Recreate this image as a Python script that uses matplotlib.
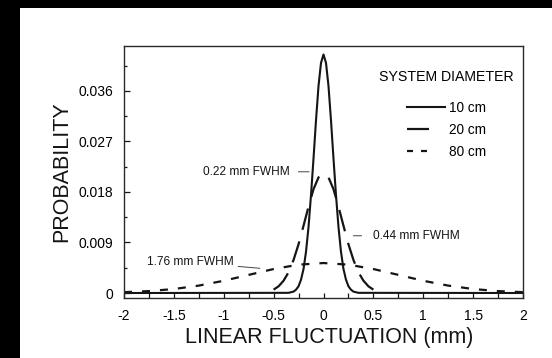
import matplotlib
matplotlib.use("Agg")
import matplotlib.pyplot as plt
from matplotlib.lines import Line2D
from matplotlib.patches import Rectangle
from matplotlib.ticker import MultipleLocator

plt.rcParams["font.family"] = ["Liberation Sans", "DejaVu Sans"]
plt.rcParams["lines.scale_dashes"] = False

# 10 cm system: narrow peak, flat at zero outside +/-0.35 mm
x10 = [-2.0, -0.35, -0.3, -0.275, -0.25, -0.225, -0.2, -0.175, -0.15, -0.125,
       -0.1, -0.075, -0.05, -0.025, 0.0, 0.025, 0.05, 0.075, 0.1, 0.125,
       0.15, 0.175, 0.2, 0.225, 0.25, 0.275, 0.3, 0.35, 2.0]
p10 = [0.0, 0.00003, 0.00025, 0.0006, 0.0012, 0.0024, 0.0043, 0.0074, 0.0118, 0.0175,
       0.0240, 0.0308, 0.0369, 0.0410, 0.0425, 0.0410, 0.0369, 0.0308, 0.0240, 0.0175,
       0.0118, 0.0074, 0.0043, 0.0024, 0.0012, 0.0006, 0.00025, 0.00003, 0.0]

# 20 cm system
x20 = [-0.5, -0.45, -0.4, -0.35, -0.3, -0.25, -0.2, -0.15, -0.1, -0.05, 0.0,
       0.05, 0.1, 0.15, 0.2, 0.25, 0.3, 0.35, 0.4, 0.45, 0.5]
p20 = [0.0006, 0.0012, 0.0022, 0.0037, 0.0059, 0.0087, 0.0120, 0.0154, 0.0185, 0.0206, 0.0213,
       0.0206, 0.0185, 0.0154, 0.0120, 0.0087, 0.0059, 0.0037, 0.0022, 0.0012, 0.0006]

# 80 cm system
x80 = [-2.0, -1.75, -1.5, -1.25, -1.0, -0.75, -0.5, -0.25, 0.0,
       0.25, 0.5, 0.75, 1.0, 1.25, 1.5, 1.75, 2.0]
p80 = [0.00015, 0.00034, 0.00071, 0.00132, 0.00218, 0.00323, 0.00427, 0.00505, 0.00534,
       0.00505, 0.00427, 0.00323, 0.00218, 0.00132, 0.00071, 0.00034, 0.00015]

series_labels = ["10 cm", "20 cm", "80 cm"]
fwhm_labels = ["0.22 mm FWHM", "0.44 mm FWHM", "1.76 mm FWHM"]
xticks = [-2, -1.5, -1, -0.5, 0, 0.5, 1, 1.5, 2]
xticklabels = ["-2", "-1.5", "-1", "-0.5", "0", "0.5", "1", "1.5", "2"]
yticks = [0, 0.009, 0.018, 0.027, 0.036]
yticklabels = ["0", "0.009", "0.018", "0.027", "0.036"]

INK = "#151515"
PX = 0.72  # points per pixel at 100 dpi

fig = plt.figure(figsize=(5.52, 3.58), dpi=100, facecolor="white")
# dark margin strips along the left and top edges
fig.patches.append(Rectangle((0, 0), 20 / 552, 1, transform=fig.transFigure,
                             facecolor="black", edgecolor="none", zorder=-5))
fig.patches.append(Rectangle((0, (358 - 8) / 358), 1, 8 / 358, transform=fig.transFigure,
                             facecolor="black", edgecolor="none", zorder=-5))
ax = fig.add_axes([124 / 552, (358 - 298) / 358, (523 - 124) / 552, (298 - 45.5) / 358])
ax.set_facecolor("white")

dash20 = (0, (22 * PX, 12 * PX))
dash80 = (0, (8 * PX, 10 * PX))
ax.plot(x10, p10, color=INK, lw=1.5, solid_joinstyle="round")
ax.plot(x20, p20, color=INK, lw=1.6, linestyle=dash20)
ax.plot(x80, p80, color=INK, lw=1.6, linestyle=dash80)

ax.set_xlim(-2, 2)
ax.set_ylim(-0.00089, 0.0441)
ax.set_xticks(xticks)
ax.set_xticklabels(xticklabels)
ax.set_yticks(yticks)
ax.set_yticklabels(yticklabels)
ax.xaxis.set_minor_locator(MultipleLocator(0.25))
ax.yaxis.set_minor_locator(MultipleLocator(0.0045))
ax.tick_params(axis="x", which="both", direction="in", length=3.6, width=0.9,
               color=INK, labelsize=10, pad=8, top=False)
ax.tick_params(axis="y", which="major", direction="in", length=4.3, width=0.9,
               color=INK, labelsize=10, pad=7.5, right=False)
ax.tick_params(axis="y", which="minor", direction="in", length=2.5, width=0.9,
               color=INK, right=False)
for s in ax.spines.values():
    s.set_color("#2a2a2a")
    s.set_linewidth(1.0)

ax.set_xlabel("LINEAR FLUCTUATION (mm)", fontsize=15.5, color=INK, labelpad=3)
ax.xaxis.label.set_x(0.514)
ax.set_ylabel("PROBABILITY", fontsize=15.5, color=INK, labelpad=5)

# legend with its own short dash samples
handles = [
    Line2D([], [], color=INK, lw=1.5),
    Line2D([], [], color=INK, lw=1.6, linestyle=(0, (22 * PX, 30 * PX))),
    Line2D([], [], color=INK, lw=1.6, linestyle=(0, (6 * PX, 8 * PX, 6 * PX, 30 * PX))),
]
leg = ax.legend(handles, series_labels, title="SYSTEM DIAMETER", frameon=False,
                loc="upper left", bbox_to_anchor=(0.615, 0.94), fontsize=9.8,
                title_fontsize=10.2, handlelength=2.8, handletextpad=0.3,
                labelspacing=0.6, borderpad=0.2)
leg._legend_box.sep = 12

lead = dict(arrowstyle="-", color="#444444", lw=0.7, shrinkB=0)
ax.annotate(fwhm_labels[0], xy=(-0.145, 0.0216), xytext=(-0.336, 0.0216),
            ha="right", va="center", fontsize=8.6, color=INK,
            arrowprops=dict(lead, shrinkA=4))
ax.annotate(fwhm_labels[1], xy=(0.30, 0.0102), xytext=(0.493, 0.0102),
            ha="left", va="center", fontsize=8.6, color=INK,
            arrowprops=dict(lead, shrinkA=6))
ax.annotate(fwhm_labels[2], xy=(-0.637, 0.0044), xytext=(-0.897, 0.00547),
            ha="right", va="center", fontsize=8.6, color=INK,
            arrowprops=dict(lead, shrinkA=1))

fig.savefig("out.png", dpi=100, facecolor=fig.get_facecolor())
